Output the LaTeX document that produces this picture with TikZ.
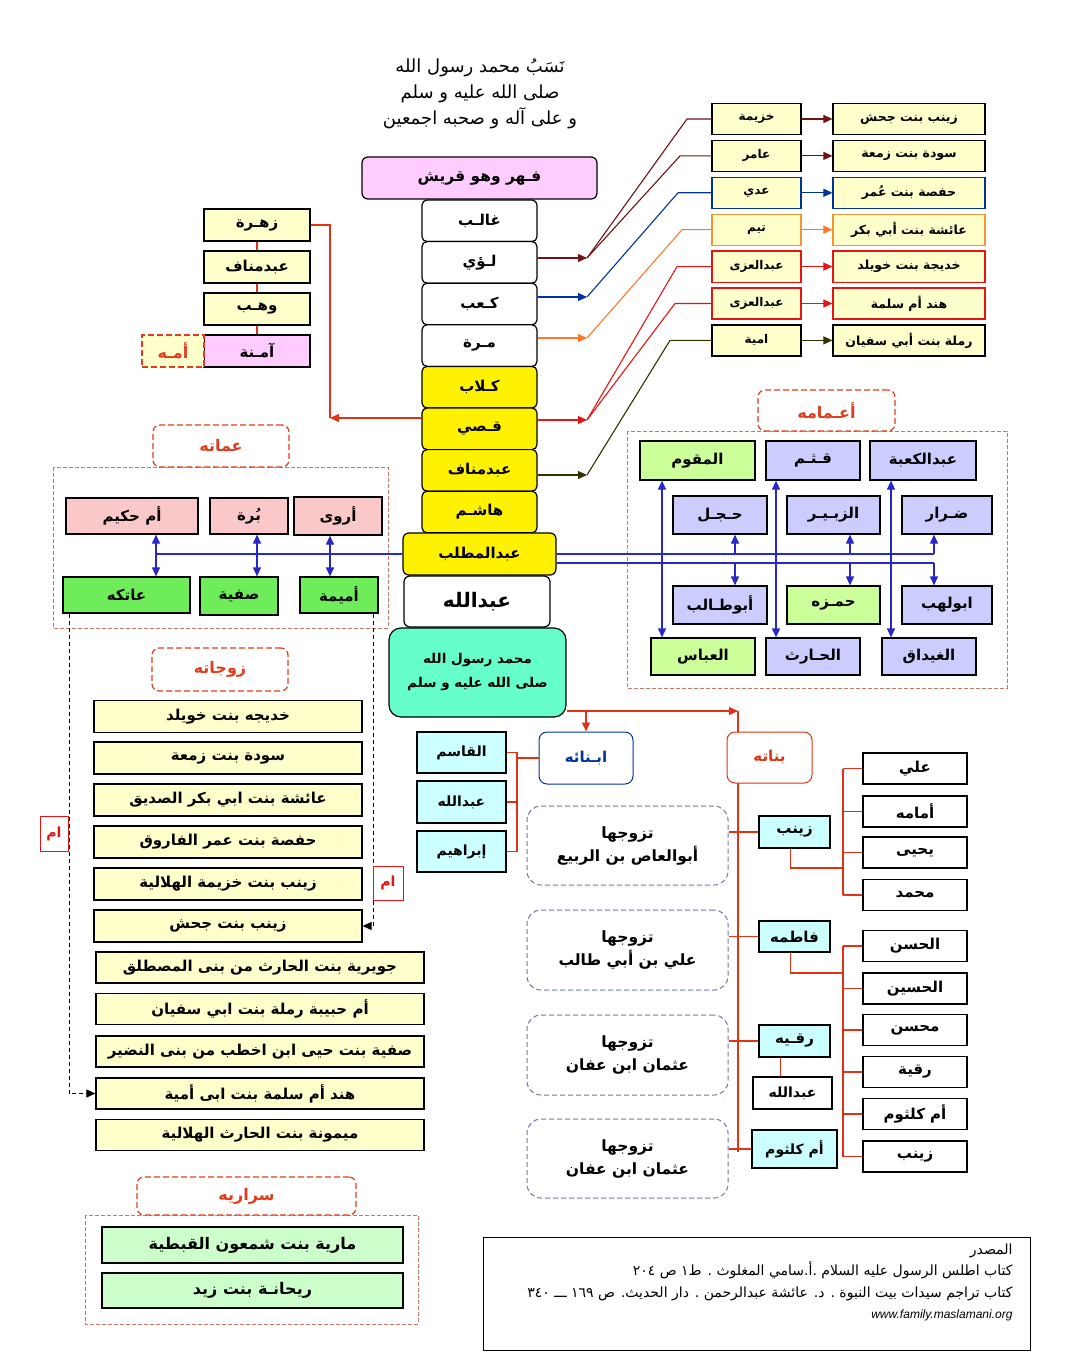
\documentclass[tikz,border=0pt]{standalone}
\usepackage{fontspec}
\usepackage{xcolor}
\usepackage{tikz}
\usetikzlibrary{arrows.meta, positioning}
\setmainfont{Liberation Sans}
\newfontfamily\arabicfont[Script=Arabic]{DejaVu Sans}
\TeXXeTstate=1
\newcommand{\artxt}[1]{{\arabicfont\bfseries\beginR #1\endR}}
\newcommand{\artxtr}[1]{{\arabicfont\beginR #1\endR}}
\definecolor{paleyellow}{RGB}{255,255,204}
\definecolor{palepink}{RGB}{255,204,255}
\definecolor{auntpink}{RGB}{250,200,200}
\definecolor{auntgreen}{RGB}{110,236,90}
\definecolor{lavender}{RGB}{204,204,255}
\definecolor{lightlime}{RGB}{204,255,153}
\definecolor{aqua}{RGB}{102,255,204}
\definecolor{lightcyan}{RGB}{204,255,255}
\definecolor{mint}{RGB}{204,255,204}
\definecolor{labelred}{RGB}{225,60,30}
\definecolor{framered}{RGB}{200,120,100}
\definecolor{linkred}{RGB}{225,50,20}
\definecolor{darkmaroon}{RGB}{110,20,20}
\definecolor{deepblue}{RGB}{0,51,153}
\definecolor{tangerine}{RGB}{255,120,40}
\definecolor{boxorange}{RGB}{240,150,50}
\definecolor{brightred}{RGB}{230,20,20}
\definecolor{darkolive}{RGB}{51,51,0}
\definecolor{linkblue}{RGB}{40,40,200}
\definecolor{husbandline}{RGB}{110,120,170}

\begin{document}
\begin{tikzpicture}[x=1pt, y=-1pt,
    cell/.style={draw, line width=1.2pt, inner sep=1pt, font=\fontsize{15}{18}\selectfont},
    small/.style={font=\fontsize{12.5}{15}\selectfont},
    tiny/.style={font=\fontsize{12}{15}\selectfont},
    sz/.style 2 args={minimum width=#1pt, minimum height=#2pt},
    headtag/.style={draw=labelred, dash pattern=on 6pt off 3pt, line width=1.2pt, rounded corners=7pt, fill=white, text=labelred, font=\fontsize{16}{19}\selectfont},
    dashframe/.style={draw=framered, dash pattern=on 4pt off 2pt, line width=0.7pt},
    redlink/.style={draw=linkred, line width=1.1pt},
    bluelink/.style={draw=linkblue, line width=1.2pt},
    husband/.style={draw=husbandline, dash pattern=on 5pt off 3pt, line width=1pt, rounded corners=14pt, align=center, font=\fontsize{15.5}{23}\selectfont},
    ahead/.style={-{Triangle[length=9pt,width=8pt]}},
    dhead/.style={{Triangle[length=9pt,width=8pt]}-{Triangle[length=9pt,width=8pt]}}]
    \useasboundingbox (0,0) rectangle (1065,1356);
    \fill[white] (0,0) rectangle (1065,1356);

    % Title
    \node[align=center, font=\fontsize{18}{26}\selectfont] (title) at (480,94)
        {\artxtr{نَسَبُ محمد رسول الله}\\ \artxtr{صلى الله عليه و سلم}\\ \artxtr{و على آله و صحبه اجمعين}};

    % Frames
    \draw[dashframe] (53,467) rectangle (388,628);
    \draw[dashframe] (627,431) rectangle (1007,688);
    \draw[dashframe] (85,1215) rectangle (418,1324);

    % Daughters bus (under the label)
    \coordinate (daughtop) at (738,711);
    \coordinate (daughbot) at (738,1152);
    \draw[redlink] (daughtop) -- (daughbot);

    % Central column
    \node[cell, fill=palepink, rounded corners=6pt, sz={235}{42}, font=\fontsize{15.5}{19}\selectfont] (fihr) at (479.5,178) {\artxt{فـهر وهو قريش}};
    \node[cell, fill=white, rounded corners=5pt, sz={115}{41.6}] (ghalib) at (479.5,220.8) {\artxt{غالـب}};
    \node[cell, fill=white, rounded corners=5pt, sz={115}{41.6}] (luayy) at (479.5,262.4) {\artxt{لـؤي}};
    \node[cell, fill=white, rounded corners=5pt, sz={115}{41.6}] (kaab) at (479.5,304) {\artxt{كـعب}};
    \node[cell, fill=white, rounded corners=5pt, sz={115}{41.6}] (murra) at (479.5,345.6) {\artxt{مـرة}};
    \node[cell, fill=yellow, rounded corners=5pt, sz={115}{41.6}] (kilab) at (479.5,387.2) {\artxt{كـلاب}};
    \node[cell, fill=yellow, rounded corners=5pt, sz={115}{41.6}] (qusay) at (479.5,428.8) {\artxt{قـصي}};
    \node[cell, fill=yellow, rounded corners=5pt, sz={115}{41.6}] (manaf) at (479.5,470.4) {\artxt{عبدمناف}};
    \node[cell, fill=yellow, rounded corners=5pt, sz={115}{41.6}] (hashim) at (479.5,512) {\artxt{هاشـم}};
    \node[cell, fill=yellow, rounded corners=6pt, sz={153}{42}] (abdmuttalib) at (479.5,554) {\artxt{عبدالمطلب}};
    \node[cell, fill=white, rounded corners=6pt, sz={146}{51}, font=\fontsize{20}{24}\selectfont] (abdallah) at (477,601.5) {\artxt{عبدالله}};
    \node[cell, fill=aqua, rounded corners=12pt, sz={177}{89}, align=center, font=\fontsize{13.5}{24}\selectfont] (muhammad) at (477.5,672.5)
        {\artxt{محمد رسول الله}\\ \artxt{صلى الله عليه و سلم}};

    % Tribes and wives (top right)
    \node[cell, tiny, fill=paleyellow, sz={89}{31}] (khuzayma) at (756.5,119) {\artxt{خزيمة}};
    \node[cell, tiny, fill=paleyellow, sz={89}{31}] (amir) at (756.5,155.9) {\artxt{عامر}};
    \node[cell, tiny, fill=paleyellow, draw=deepblue, sz={89}{31}] (adi) at (756.5,192.8) {\artxt{عدي}};
    \node[cell, tiny, fill=paleyellow, draw=boxorange, sz={89}{31}] (taym) at (756.5,229.7) {\artxt{تيم}};
    \node[cell, tiny, fill=paleyellow, draw=brightred, sz={89}{31}] (uzzaa) at (756.5,266.6) {\artxt{عبدالعزى}};
    \node[cell, tiny, fill=paleyellow, draw=brightred, sz={89}{31}] (uzzab) at (756.5,303.5) {\artxt{عبدالعزى}};
    \node[cell, tiny, fill=paleyellow, sz={89}{31}] (umayya) at (756.5,340.4) {\artxt{امية}};

    \node[cell, small, fill=paleyellow, sz={152}{31}] (rjahsh) at (909,119) {\artxt{زينب بنت جحش}};
    \node[cell, small, fill=paleyellow, sz={152}{31}] (rsawda) at (909,155.9) {\artxt{سودة بنت  زمعة}};
    \node[cell, small, fill=paleyellow, draw=deepblue, sz={152}{31}] (rhafsa) at (909,192.8) {\artxt{حفصة بنت عُمر}};
    \node[cell, small, fill=paleyellow, draw=boxorange, sz={152}{31}] (raisha) at (909,229.7) {\artxt{عائشة بنت أبي بكر}};
    \node[cell, small, fill=paleyellow, draw=brightred, sz={152}{31}] (rkhadija) at (909,266.6) {\artxt{خديجة بنت خويلد}};
    \node[cell, small, fill=paleyellow, draw=brightred, sz={152}{31}] (rhind) at (909,303.5) {\artxt{هند أم سلمة}};
    \node[cell, small, fill=paleyellow, sz={152}{31}] (rramla) at (909,340.4) {\artxt{رملة بنت أبي سفيان}};

    % Ancestor arrows to the tribes
    \coordinate (tluayy) at (587,258);
    \coordinate (tkaab) at (587,297);
    \coordinate (tmurra) at (587,338);
    \coordinate (tqusay) at (587,420);
    \coordinate (tmanaf) at (587,475);
    \draw[draw=darkmaroon, line width=1.1pt, ahead] (luayy.east |- tluayy) -- (tluayy);
    \draw[draw=deepblue, line width=1.1pt, ahead] (kaab.east |- tkaab) -- (tkaab);
    \draw[draw=tangerine, line width=1.1pt, ahead] (murra.east |- tmurra) -- (tmurra);
    \draw[draw=brightred, line width=1.1pt, ahead] (qusay.east |- tqusay) -- (tqusay);
    \draw[draw=darkolive, line width=1.1pt, ahead] (manaf.east |- tmanaf) -- (tmanaf);

    \draw[draw=darkmaroon, line width=1.1pt] (tluayy) -- (687,0 |- khuzayma.west) -- (khuzayma.west);
    \draw[draw=darkmaroon, line width=1.1pt] (tluayy) -- (680,0 |- amir.west) -- (amir.west);
    \draw[draw=deepblue, line width=1.1pt] (tkaab) -- (678,0 |- adi.west) -- (adi.west);
    \draw[draw=tangerine, line width=1.1pt] (tmurra) -- (682,0 |- taym.west) -- (taym.west);
    \draw[draw=brightred, line width=1.1pt] (tqusay) -- (677,0 |- uzzaa.west) -- (uzzaa.west);
    \draw[draw=brightred, line width=1.1pt] (tqusay) -- (675,0 |- uzzab.west) -- (uzzab.west);
    \draw[draw=darkolive, line width=1.1pt] (tmanaf) -- (670,0 |- umayya.west) -- (umayya.west);

    \draw[draw=darkmaroon, line width=1.1pt, ahead] (khuzayma.east) -- (rjahsh.west);
    \draw[draw=darkmaroon, line width=1.1pt, ahead] (amir.east) -- (rsawda.west);
    \draw[draw=deepblue, line width=1.1pt, ahead] (adi.east) -- (rhafsa.west);
    \draw[draw=tangerine, line width=1.1pt, ahead] (taym.east) -- (raisha.west);
    \draw[draw=brightred, line width=1.1pt, ahead] (uzzaa.east) -- (rkhadija.west);
    \draw[draw=brightred, line width=1.1pt, ahead] (uzzab.east) -- (rhind.west);
    \draw[draw=darkolive, line width=1.1pt, ahead] (umayya.east) -- (rramla.west);

    % Mother's line (top left)
    \node[cell, fill=paleyellow, sz={106}{32}] (zuhra) at (257,225) {\artxt{زهـرة}};
    \node[cell, fill=paleyellow, sz={106}{32}] (manafb) at (257,267) {\artxt{عبدمناف}};
    \node[cell, fill=paleyellow, sz={106}{32}] (wahb) at (257,309) {\artxt{وهـب}};
    \node[cell, fill=palepink, sz={106}{32}] (amina) at (257,351) {\artxt{آمـنة}};
    \node[headtag, fill=paleyellow, rounded corners=0pt, sz={62}{32}] (ummuhu) at (173,351) {\artxt{أمـه}};
    \draw[redlink] (zuhra.south) -- (manafb.north);
    \draw[redlink] (manafb.south) -- (wahb.north);
    \draw[redlink] (wahb.south) -- (amina.north);
    \coordinate (qarrow) at (330,418);
    \draw[redlink] (zuhra.east) -| (qarrow);
    \draw[redlink, ahead] (qusay.west |- qarrow) -- (qarrow);

    % Aunts
    \node[headtag, sz={136}{42}] (ammatuhu) at (221,446) {\artxt{عماته}};
    \node[cell, fill=auntpink, sz={132}{36}] (umhakim) at (132,516) {\artxt{أم حكيم}};
    \node[cell, fill=auntpink, sz={78}{36}] (barra) at (249,516) {\artxt{بُرة}};
    \node[cell, fill=auntpink, sz={88}{38}] (arwa) at (338,516) {\artxt{أروى}};
    \node[cell, fill=auntgreen, sz={127}{36}] (atika) at (126.5,595) {\artxt{عاتكه}};
    \node[cell, fill=auntgreen, sz={78}{38}] (safiyya) at (239,596) {\artxt{صفية}};
    \node[cell, fill=auntgreen, sz={78}{36}] (umayma) at (339,595) {\artxt{أميمة}};
    \draw[bluelink] (abdmuttalib.west) -- (156,0 |- abdmuttalib.west);
    \draw[bluelink, dhead] (156,0 |- umhakim.south) -- (156,0 |- atika.north);
    \draw[bluelink, dhead] (257,0 |- barra.south) -- (257,0 |- safiyya.north);
    \draw[bluelink, dhead] (330,0 |- arwa.south) -- (330,0 |- umayma.north);

    % Uncles
    \node[headtag, sz={137}{41}] (aamamuhu) at (826.5,410.5) {\artxt{أعـمامه}};
    \node[cell, fill=lightlime, sz={115}{39}] (muqawwim) at (697.5,460.5) {\artxt{المقوم}};
    \node[cell, fill=lavender, sz={94}{39}] (qutham) at (813,460.5) {\artxt{قـثـم}};
    \node[cell, fill=lavender, sz={106}{39}] (abdkaaba) at (923,460.5) {\artxt{عبدالكعبة}};
    \node[cell, fill=lavender, sz={94}{38}] (hajl) at (720,515) {\artxt{حـجـل}};
    \node[cell, fill=lavender, sz={93}{38}] (zubayr) at (833.5,515) {\artxt{الزبـيـر}};
    \node[cell, fill=lavender, sz={90}{38}] (dirar) at (947,515) {\artxt{ضـرار}};
    \node[cell, fill=lavender, sz={94}{38}] (abutalib) at (720,605) {\artxt{أبوطـالب}};
    \node[cell, fill=lightlime, sz={93}{38}] (hamza) at (833.5,605) {\artxt{حمـزه}};
    \node[cell, fill=lavender, sz={90}{38}] (abulahab) at (947,605) {\artxt{ابولهب}};
    \node[cell, fill=lightlime, sz={104}{37}] (abbas) at (703,656.5) {\artxt{العباس}};
    \node[cell, fill=lavender, sz={94}{37}] (harith) at (813,656.5) {\artxt{الحـارث}};
    \node[cell, fill=lavender, sz={94}{37}] (ghaydaq) at (929,656.5) {\artxt{الغيداق}};

    \coordinate (upbus) at (934,554);
    \coordinate (lowbus) at (934,563);
    \draw[bluelink] (abdmuttalib.east) -- (upbus);
    \draw[bluelink] (abdmuttalib.east |- lowbus) -- (lowbus);
    \draw[bluelink, ahead] (upbus) -- (upbus |- dirar.south);
    \draw[bluelink, ahead] (lowbus) -- (lowbus |- abulahab.north);
    \draw[bluelink, ahead] (735,0 |- upbus) -- (735,0 |- hajl.south);
    \draw[bluelink, ahead] (735,0 |- lowbus) -- (735,0 |- abutalib.north);
    \draw[bluelink, ahead] (850,0 |- upbus) -- (850,0 |- zubayr.south);
    \draw[bluelink, ahead] (850,0 |- lowbus) -- (850,0 |- hamza.north);
    \draw[bluelink, dhead] (662,0 |- muqawwim.south) -- (662,0 |- abbas.north);
    \draw[bluelink, dhead] (776,0 |- qutham.south) -- (776,0 |- harith.north);
    \draw[bluelink, dhead] (891,0 |- abdkaaba.south) -- (891,0 |- ghaydaq.north);

    % Wives
    \node[headtag, sz={136}{43}] (zawjatuhu) at (220,669.5) {\artxt{زوجاته}};
    \node[cell, fill=paleyellow, sz={268}{32}] (wkhadija) at (228,716.5) {\artxt{خديجه بنت خويلد}};
    \node[cell, fill=paleyellow, sz={268}{32}] (wsawda) at (228,758) {\artxt{سودة بنت زمعة}};
    \node[cell, fill=paleyellow, sz={268}{32}] (waisha) at (228,800) {\artxt{عائشة بنت ابي بكر الصديق}};
    \node[cell, fill=paleyellow, sz={268}{32}] (whafsa) at (228,842) {\artxt{حفصة بنت عمر الفاروق}};
    \node[cell, fill=paleyellow, sz={268}{32}] (wzkhuzayma) at (228,884) {\artxt{زينب بنت خزيمة الهلالية}};
    \node[cell, fill=paleyellow, sz={268}{32}] (wzjahsh) at (228,926) {\artxt{زينب بنت جحش}};
    \node[cell, fill=paleyellow, sz={328}{31}] (wjuwayriya) at (260,967.5) {\artxt{جويرية بنت الحارث من بنى المصطلق}};
    \node[cell, fill=paleyellow, sz={328}{31}] (wumhabiba) at (260,1009) {\artxt{أم حبيبة رملة بنت ابي سفيان}};
    \node[cell, fill=paleyellow, sz={328}{31}] (wsafiyya) at (260,1051.5) {\artxt{صفية بنت حيى ابن اخطب من بنى النضير}};
    \node[cell, fill=paleyellow, sz={328}{31}] (whind) at (260,1093.5) {\artxt{هند أم سلمة بنت ابى أمية}};
    \node[cell, fill=paleyellow, sz={328}{31}] (wmaymuna) at (260,1135) {\artxt{ميمونة بنت الحارث الهلالية}};

    \draw[dash pattern=on 4pt off 3pt, line width=0.8pt, ahead] (69,0 |- atika.south) |- (whind.west);
    \draw[dash pattern=on 4pt off 3pt, line width=0.8pt, ahead] (373,0 |- umayma.south) |- (wzjahsh.east);
    \node[draw=brightred, fill=white, line width=1pt, text=brightred, font=\fontsize{14}{16}\selectfont, sz={28}{35}] (omleft) at (54,833.5) {\artxt{ام}};
    \node[draw=brightred, fill=white, line width=1pt, text=brightred, font=\fontsize{14}{16}\selectfont, sz={30}{34}] (omright) at (388,883) {\artxt{ام}};

    % Sons
    \node[cell, draw=deepblue, text=deepblue, line width=1pt, fill=white, rounded corners=8pt, sz={94}{52}] (abnauhu) at (586,758) {\artxt{ابـنائه}};
    \node[cell, fill=lightcyan, font=\fontsize{14}{17}\selectfont, sz={89}{41}] (qasim) at (461.5,752.5) {\artxt{القاسم}};
    \node[cell, fill=lightcyan, font=\fontsize{14}{17}\selectfont, sz={89}{42}] (abdallahb) at (461.5,802) {\artxt{عبدالله}};
    \node[cell, fill=lightcyan, font=\fontsize{14}{17}\selectfont, sz={89}{41}] (ibrahim) at (461.5,851.5) {\artxt{إبراهيم}};
    \coordinate (sonsbus) at (517,0);
    \draw[redlink] (qasim.east) -- (sonsbus |- qasim.east) -- (sonsbus |- ibrahim.east) -- (ibrahim.east);
    \draw[redlink] (abdallahb.east) -- (sonsbus |- abdallahb.east);
    \draw[redlink] (abnauhu.west) -- (sonsbus |- abnauhu.west);
    \draw[redlink, ahead] (muhammad.east |- daughtop) -- (daughtop);
    \draw[redlink, ahead] (abnauhu.north |- daughtop) -- (abnauhu.north);

    % Daughters and their husbands
    \node[cell, draw=linkred, text=linkred, line width=1pt, fill=white, rounded corners=8pt, sz={85}{51}] (banatuhu) at (769.5,757.5) {\artxt{بناته}};
    \node[cell, fill=lightcyan, sz={71}{32}] (zaynab) at (794.5,832) {\artxt{زينب}};
    \node[cell, fill=lightcyan, sz={71}{31}] (fatima) at (794.5,936.5) {\artxt{فاطمه}};
    \node[cell, fill=lightcyan, sz={71}{32}] (ruqayya) at (794.5,1041) {\artxt{رقـيه}};
    \node[cell, fill=white, font=\fontsize{14}{17}\selectfont, sz={79}{32}] (abdallahc) at (792.5,1093) {\artxt{عبدالله}};
    \node[cell, fill=lightcyan, font=\fontsize{14}{17}\selectfont, sz={85}{38}] (umkulthum) at (794.5,1149) {\artxt{أم كلثوم}};

    \node[husband, sz={201}{79}] (husba) at (627.5,845.5) {\artxt{تزوجها}\\ \artxt{أبوالعاص بن الربيع}};
    \node[husband, sz={201}{80}] (husbb) at (627.5,950) {\artxt{تزوجها}\\ \artxt{علي بن أبي طالب}};
    \node[husband, sz={201}{80}] (husbc) at (627.5,1055) {\artxt{تزوجها}\\ \artxt{عثمان ابن عفان}};
    \node[husband, sz={201}{79}] (husbd) at (627.5,1158.5) {\artxt{تزوجها}\\ \artxt{عثمان ابن عفان}};

    \draw[redlink] (husba.east |- zaynab.west) -- (zaynab.west);
    \draw[redlink] (husbb.east |- fatima.west) -- (fatima.west);
    \draw[redlink] (husbc.east |- ruqayya.west) -- (ruqayya.west);
    \draw[redlink] (husbd.east |- umkulthum.west) -- (umkulthum.west);
    \draw[redlink] ([xshift=-14pt]ruqayya.south) -- ([xshift=-14pt]ruqayya.south |- abdallahc.north);

    % Grandchildren
    \node[cell, fill=white, sz={104}{31}] (ali) at (915,768.5) {\artxt{علي}};
    \node[cell, fill=white, sz={104}{31}] (umama) at (915,811.5) {\artxt{أمامه}};
    \node[cell, fill=white, sz={104}{31}] (yahya) at (915,852.5) {\artxt{يحيى}};
    \node[cell, fill=white, sz={104}{31}] (muhammadb) at (915,895) {\artxt{محمد}};
    \node[cell, fill=white, sz={104}{31}] (hasan) at (915,946) {\artxt{الحسن}};
    \node[cell, fill=white, sz={104}{31}] (husayn) at (915,988.5) {\artxt{الحسين}};
    \node[cell, fill=white, sz={104}{31}] (muhsin) at (915,1030) {\artxt{محسن}};
    \node[cell, fill=white, sz={104}{31}] (ruqayyab) at (915,1072) {\artxt{رقية}};
    \node[cell, fill=white, sz={104}{31}] (umkulthumb) at (915,1114) {\artxt{أم كلثوم}};
    \node[cell, fill=white, sz={104}{31}] (zaynabb) at (915,1156.5) {\artxt{زينب}};

    \coordinate (zjoin) at (843,868);
    \coordinate (fjoin) at (843,973);
    \draw[redlink] ([xshift=-4pt]zaynab.south) |- (zjoin);
    \draw[redlink] ([xshift=-4pt]fatima.south) |- (fjoin);
    \draw[redlink] (zjoin |- ali.west) -- (zjoin |- muhammadb.west);
    \draw[redlink] (fjoin |- hasan.west) -- (fjoin |- zaynabb.west);
    \foreach \n in {ali, umama, yahya, muhammadb}
        \draw[redlink] (zjoin |- \n.west) -- (\n.west);
    \foreach \n in {hasan, husayn, muhsin, ruqayyab, umkulthumb, zaynabb}
        \draw[redlink] (fjoin |- \n.west) -- (\n.west);

    % Concubines
    \node[headtag, sz={219}{38}] (sarariyuh) at (246.5,1196) {\artxt{سراريه}};
    \node[cell, font=\fontsize{16}{19}\selectfont, fill=mint, sz={301}{36}] (mariya) at (252.5,1245) {\artxt{مارية بنت شمعون القبطية}};
    \node[cell, font=\fontsize{16}{19}\selectfont, fill=mint, sz={301}{35}] (rayhana) at (252.5,1290.5) {\artxt{ريحانـة بنت زيد}};

    % Source
    \draw[line width=1pt] (483,1237) rectangle (1030,1350);
    \node[anchor=north east, align=right, font=\fontsize{14}{21.5}\selectfont] (source) at (1016,1240)
        {\artxtr{المصدر}\\
         \artxtr{كتاب اطلس الرسول عليه السلام .أ.سامي المغلوث . ط١ ص \beginL٢٠٤\endL}\\
         \artxtr{كتاب تراجم سيدات بيت النبوة . د. عائشة عبدالرحمن . دار الحديث. ص \beginL١٦٩\endL\ ـــ \beginL٣٤٠\endL}\\
         {\itshape\fontsize{12}{14}\selectfont www.family.maslamani.org}};
\end{tikzpicture}
\end{document}
